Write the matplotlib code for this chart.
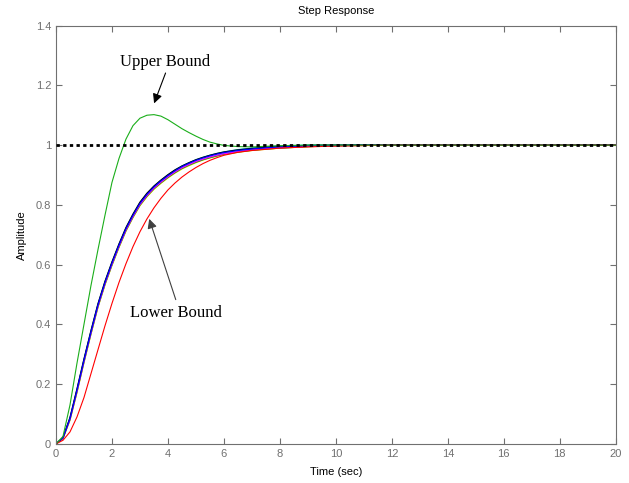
import matplotlib
matplotlib.use("Agg")
import matplotlib.pyplot as plt

# time grid (sec) used for all traces
t = [0, 0.25, 0.5, 0.75, 1, 1.25, 1.5, 1.75, 2, 2.25, 2.5, 2.75, 3, 3.25, 3.5,
     3.75, 4, 4.25, 4.5, 4.75, 5, 5.25, 5.5, 5.75, 6, 6.5, 7, 7.5, 8, 9, 10,
     12, 20]

# upper bound (green, overshoot)
y_upper = [0, 0.025, 0.13, 0.27, 0.40, 0.53, 0.65, 0.765, 0.875, 0.955, 1.02,
           1.065, 1.09, 1.10, 1.102, 1.097, 1.085, 1.07, 1.055, 1.042, 1.03,
           1.019, 1.01, 1.004, 0.999, 0.995, 0.994, 0.996, 0.998, 1.0, 1.0,
           1.0, 1.0]

# lower bound (red)
y_lower = [0, 0.012, 0.04, 0.09, 0.155, 0.235, 0.315, 0.395, 0.47, 0.54, 0.603,
           0.66, 0.71, 0.753, 0.79, 0.822, 0.85, 0.873, 0.893, 0.91, 0.925,
           0.938, 0.949, 0.958, 0.966, 0.976, 0.982, 0.986, 0.99, 0.994, 0.997,
           1.0, 1.0]

# cluster of nominal responses
y_blue = [0, 0.02, 0.085, 0.18, 0.28, 0.375, 0.465, 0.54, 0.605, 0.665, 0.72,
          0.765, 0.805, 0.835, 0.86, 0.88, 0.898, 0.914, 0.928, 0.939, 0.949,
          0.957, 0.964, 0.97, 0.975, 0.982, 0.987, 0.991, 0.994, 0.998, 0.999,
          1.0, 1.0]
y_black = [0, 0.021, 0.088, 0.184, 0.284, 0.379, 0.469, 0.544, 0.609, 0.669,
           0.724, 0.769, 0.809, 0.839, 0.863, 0.883, 0.901, 0.917, 0.93, 0.941,
           0.951, 0.959, 0.966, 0.972, 0.977, 0.984, 0.989, 0.993, 0.996, 0.999,
           1.0, 1.0, 1.0]
y_magenta = [0, 0.019, 0.082, 0.176, 0.276, 0.371, 0.461, 0.536, 0.601, 0.661,
             0.716, 0.761, 0.801, 0.831, 0.856, 0.876, 0.894, 0.91, 0.924,
             0.935, 0.945, 0.953, 0.96, 0.966, 0.971, 0.978, 0.984, 0.988,
             0.991, 0.996, 0.998, 1.0, 1.0]
y_cyan = [0, 0.02, 0.086, 0.182, 0.282, 0.377, 0.467, 0.542, 0.607, 0.667,
          0.722, 0.767, 0.807, 0.837, 0.862, 0.882, 0.9, 0.916, 0.93, 0.941,
          0.951, 0.959, 0.966, 0.972, 0.977, 0.985, 0.99, 0.994, 0.997, 1.0,
          1.0, 1.0, 1.0]
y_yellow = [0, 0.018, 0.079, 0.172, 0.272, 0.367, 0.457, 0.532, 0.597, 0.657,
            0.712, 0.757, 0.797, 0.827, 0.852, 0.872, 0.89, 0.906, 0.92, 0.931,
            0.941, 0.95, 0.957, 0.963, 0.968, 0.976, 0.982, 0.986, 0.99, 0.995,
            0.998, 1.0, 1.0]
y_dgreen = [0, 0.019, 0.081, 0.174, 0.274, 0.369, 0.459, 0.534, 0.599, 0.659,
            0.714, 0.759, 0.799, 0.829, 0.854, 0.874, 0.892, 0.908, 0.922,
            0.933, 0.943, 0.951, 0.958, 0.964, 0.97, 0.977, 0.983, 0.987, 0.99,
            0.995, 0.998, 1.0, 1.0]

cluster = [(y_yellow, '#e6e600'), (y_dgreen, '#00a000'), (y_cyan, '#00d0d0'),
           (y_magenta, '#ff00ff'), (y_black, 'black'), (y_blue, 'blue')]

xticks = [0, 2, 4, 6, 8, 10, 12, 14, 16, 18, 20]
yticks = [0, 0.2, 0.4, 0.6, 0.8, 1.0, 1.2, 1.4]
ytick_labels = ['0', '0.2', '0.4', '0.6', '0.8', '1', '1.2', '1.4']

plt.rcParams['font.family'] = ['Liberation Sans', 'DejaVu Sans']

fig = plt.figure(figsize=(6.29, 4.83), dpi=100)
ax = fig.add_axes([0.089, 0.081, 0.890, 0.866])

ax.plot([0, 20], [1, 1], color='black', lw=2, linestyle=(0, (1.2, 1.2)), zorder=5)
for y, c in cluster:
    ax.plot(t, y, color=c, lw=0.9)
ax.plot(t, y_lower, color='red', lw=0.8)
ax.plot(t, y_upper, color='#1aae1a', lw=0.8)

ax.set_xlim(0, 20)
ax.set_ylim(0, 1.4)
ax.set_xticks(xticks)
ax.set_yticks(yticks)
ax.set_yticklabels(ytick_labels)
ax.tick_params(direction='in', top=True, right=True, length=4, width=0.8,
               colors='#707070', labelsize=8, labelcolor='#707070')
for s in ax.spines.values():
    s.set_color('#707070')
    s.set_linewidth(0.8)

ax.set_title('Step Response', fontsize=8, pad=8)
ax.set_xlabel('Time (sec)', fontsize=8, labelpad=6)
ax.set_ylabel('Amplitude', fontsize=8, labelpad=6)

serif = ['Liberation Serif', 'DejaVu Serif']
ax.annotate('', xy=(3.47, 1.131), xytext=(3.95, 1.25),
            arrowprops=dict(arrowstyle='-|>', color='black', lw=0.8,
                            mutation_scale=14))
ax.text(3.89, 1.278, 'Upper Bound', family=serif, fontsize=12,
        ha='center', va='center')
ax.annotate('', xy=(3.3, 0.762), xytext=(4.31, 0.474),
            arrowprops=dict(arrowstyle='-|>', color='#404040', lw=0.8,
                            mutation_scale=14))
ax.text(4.28, 0.438, 'Lower Bound', family=serif, fontsize=12,
        ha='center', va='center')

fig.savefig('out.png', dpi=100)
